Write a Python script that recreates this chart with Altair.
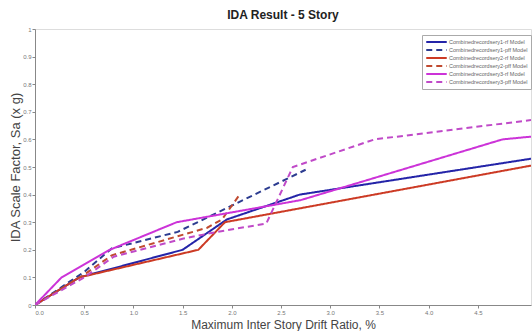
import altair as alt
import pandas as pd

series_names = [
    "Combinedrecordsery1-rf Model",
    "Combinedrecordsery1-pff Model",
    "Combinedrecordsery2-rf Model",
    "Combinedrecordsery2-pff Model",
    "Combinedrecordsery3-rf Model",
    "Combinedrecordsery3-pff Model",
]
series_colors = ["#2424a8", "#2c3c90", "#cc3a24", "#c04a30", "#cc33d8", "#c04ac8"]
series_dash = [[1, 0], [6, 4], [1, 0], [6, 4], [1, 0], [6, 4]]

s1_rf_x = [0, 0.45, 1.5, 1.95, 2.69, 5.04]
s1_rf_y = [0, 0.10, 0.20, 0.31, 0.40, 0.53]
s1_pff_x = [0, 0.5, 0.78, 1.45, 2.75]
s1_pff_y = [0, 0.12, 0.205, 0.265, 0.49]
s2_rf_x = [0, 0.45, 1.66, 1.93, 5.04]
s2_rf_y = [0, 0.10, 0.20, 0.30, 0.505]
s2_pff_x = [0, 0.5, 0.78, 1.75, 1.9, 2.08]
s2_pff_y = [0, 0.11, 0.18, 0.28, 0.31, 0.40]
s3_rf_x = [0, 0.27, 0.76, 1.44, 2.7, 4.75, 5.04]
s3_rf_y = [0, 0.10, 0.20, 0.30, 0.38, 0.60, 0.61]
s3_pff_x = [0, 0.5, 0.8, 1.5, 1.85, 2.35, 2.62, 3.45, 5.04]
s3_pff_y = [0, 0.10, 0.175, 0.24, 0.265, 0.295, 0.50, 0.60, 0.67]

xs = [s1_rf_x, s1_pff_x, s2_rf_x, s2_pff_x, s3_rf_x, s3_pff_x]
ys = [s1_rf_y, s1_pff_y, s2_rf_y, s2_pff_y, s3_rf_y, s3_pff_y]

x_ticks = [0, 0.5, 1, 1.5, 2, 2.5, 3, 3.5, 4, 4.5]
y_ticks = [0, 0.1, 0.2, 0.3, 0.4, 0.5, 0.6, 0.7, 0.8, 0.9, 1]

rows = []
for name, xv, yv in zip(series_names, xs, ys):
    for i, (a, b) in enumerate(zip(xv, yv)):
        rows.append({"series": name, "x": a, "y": b, "i": i})
df = pd.DataFrame(rows)

FONT = "Liberation Sans"

chart = (
    alt.Chart(df)
    .mark_line(strokeWidth=2, clip=True)
    .encode(
        x=alt.X(
            "x:Q",
            scale=alt.Scale(domain=[0, 5.04], nice=False, zero=False),
            axis=alt.Axis(
                values=x_ticks,
                title="Maximum Inter Story Drift Ratio, %",
                grid=False,
                labelFontSize=6,
                labelColor="#777",
                labelFont=FONT,
                tickSize=3,
                tickColor="#888",
                domainColor="#888",
                titleFontSize=12,
                titleFont=FONT,
                titleFontWeight="normal",
                titleColor="#444",
                titlePadding=4,
                labelPadding=1,
            ),
        ),
        y=alt.Y(
            "y:Q",
            scale=alt.Scale(domain=[0, 1], nice=False),
            axis=alt.Axis(
                values=y_ticks,
                format="~g",
                title="IDA Scale Factor, Sa (x g)",
                grid=False,
                labelFontSize=6,
                labelColor="#777",
                labelFont=FONT,
                tickSize=3,
                tickColor="#888",
                domainColor="#888",
                titleFontSize=13,
                titleFont=FONT,
                titleFontWeight="normal",
                titleColor="#444",
                titlePadding=0,
                labelPadding=1,
            ),
        ),
        color=alt.Color(
            "series:N",
            scale=alt.Scale(domain=series_names, range=series_colors),
            legend=alt.Legend(
                title=None,
                orient="none",
                legendX=387,
                legendY=6,
                symbolType="stroke",
                symbolSize=420,
                symbolStrokeWidth=2,
                clipHeight=8,
                labelFontSize=5.5,
                labelFont=FONT,
                labelColor="#666",
                labelLimit=200,
                rowPadding=0,
                padding=3,
                strokeColor="#aaa",
                fillColor="white",
                labelOffset=1,
            ),
        ),
        strokeDash=alt.StrokeDash(
            "series:N",
            scale=alt.Scale(domain=series_names, range=series_dash),
            legend=None,
        ),
        detail="series:N",
        order="i:Q",
    )
    .properties(
        width=496,
        height=276,
        title=alt.TitleParams(
            "IDA Result - 5 Story",
            fontSize=12,
            fontWeight="bold",
            font=FONT,
            color="#222",
            offset=4,
            anchor="middle",
        ),
        autosize=alt.AutoSizeParams(type="none"),
        padding={"left": 35, "top": 29, "right": 1, "bottom": 26},
    )
    .configure_view(stroke="#999", strokeWidth=1)
    .configure(background="white")
)

chart.save("out.html", embed_options={"renderer": "svg", "actions": False})
